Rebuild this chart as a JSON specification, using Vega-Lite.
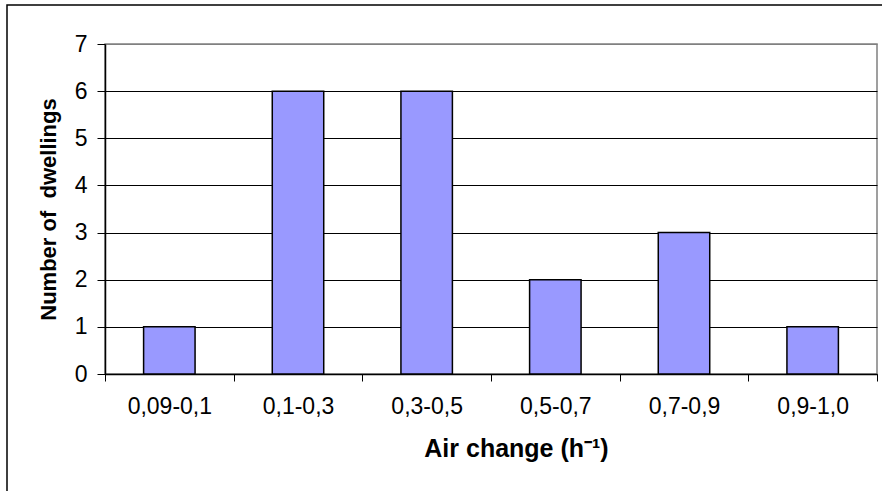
{
  "$schema": "https://vega.github.io/schema/vega-lite/v6.json",
  "width": 772,
  "height": 330,
  "autosize": {"type": "none"},
  "padding": {"left": 105, "top": 44, "right": 5, "bottom": 117},
  "background": "white",
  "config": {
    "font": "Liberation Sans",
    "view": {"stroke": "#808080", "strokeWidth": 1.5}
  },
  "layer": [
    {
      "data": {"values": [{"frame": "chart area"}]},
      "mark": {
        "type": "rect",
        "x": -98,
        "y": -39,
        "x2": {"expr": "width + 40"},
        "y2": {"expr": "height + 140"},
        "fill": null,
        "stroke": "black",
        "strokeWidth": 1.5
      },
      "encoding": {}
    },
    {
      "data": {
        "values": [
          {"range": "0,09-0,1", "dwellings": 1},
          {"range": "0,1-0,3", "dwellings": 6},
          {"range": "0,3-0,5", "dwellings": 6},
          {"range": "0,5-0,7", "dwellings": 2},
          {"range": "0,7-0,9", "dwellings": 3},
          {"range": "0,9-1,0", "dwellings": 1}
        ]
      },
      "mark": {
        "type": "bar",
        "fill": "#9999FF",
        "stroke": "black",
        "strokeWidth": 1.5,
        "width": {"band": 0.4}
      },
      "encoding": {
        "x": {
          "field": "range",
          "type": "nominal",
          "sort": null,
          "scale": {"paddingInner": 0, "paddingOuter": 0},
          "axis": {
            "labelAngle": 0,
            "tickBand": "extent",
            "tickSize": 7,
            "tickColor": "black",
            "domainColor": "black",
            "domainWidth": 1.5,
            "labelFontSize": 23,
            "labelColor": "black",
            "labelPadding": 14,
            "title": "Air change (h⁻¹)",
            "titleFontSize": 25,
            "titleFontWeight": "bold",
            "titleColor": "black",
            "titlePadding": 18,
            "titleX": 411
          }
        },
        "y": {
          "field": "dwellings",
          "type": "quantitative",
          "scale": {"domain": [0, 7], "nice": false},
          "axis": {
            "values": [0, 1, 2, 3, 4, 5, 6, 7],
            "tickSize": 8,
            "tickColor": "black",
            "domainColor": "black",
            "domainWidth": 1.5,
            "gridColor": {"condition": {"test": "datum.value === 7", "value": "#808080"}, "value": "black"},
            "gridWidth": 1.2,
            "labelFontSize": 23,
            "labelColor": "black",
            "labelPadding": 10,
            "title": "Number of\u00a0 dwellings",
            "titleFontSize": 22,
            "titleFontWeight": "bold",
            "titleColor": "black",
            "titlePadding": 14
          }
        }
      }
    }
  ]
}
